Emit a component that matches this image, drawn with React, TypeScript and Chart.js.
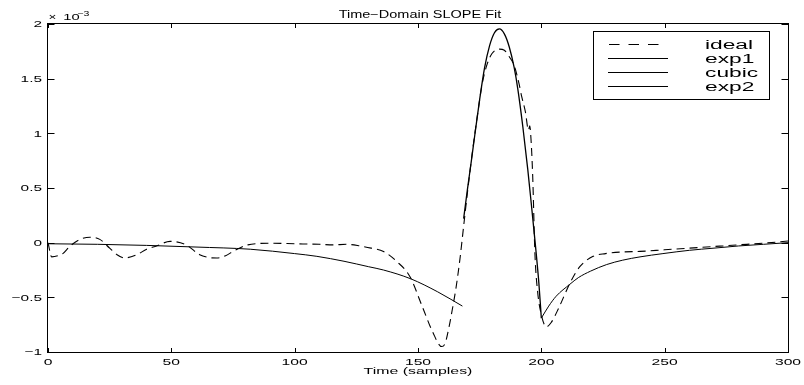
import React, { useEffect, useRef } from "react";
import { Chart, registerables } from "chart.js";

Chart.register(...registerables);

// Values are in units of 1e-3 (axis shows "× 10^-3")
const Y_EXPONENT = "\u22123";

const IDEAL_X = [0, 1.5, 4, 6, 9, 13, 17, 21, 25, 28, 31, 36, 40, 44, 49.5, 56, 61.5, 65, 68.4, 72, 75, 81, 90, 100, 110, 115.6, 121, 126.5, 131, 136, 141.3, 146.7, 152, 156, 159.6, 161, 162.5, 164, 165.5, 167, 168.5, 170, 172, 174, 176, 178, 180, 183, 185, 187, 189, 191, 192, 193.5, 194.8, 195.3, 195.8, 196.5, 197.4, 198.5, 200, 202, 204, 207, 211.6, 215.6, 221, 226, 233, 240, 250, 260, 270, 280, 290, 300];
const IDEAL_Y = [0, -0.13, -0.12, -0.1, -0.03, 0.03, 0.05, 0.03, -0.05, -0.11, -0.14, -0.11, -0.06, -0.03, 0.012, -0.02, -0.11, -0.135, -0.14, -0.12, -0.08, -0.02, -0.005, -0.01, -0.015, -0.02, -0.015, -0.03, -0.05, -0.08, -0.17, -0.31, -0.6, -0.82, -0.95, -0.92, -0.78, -0.6, -0.4, -0.15, 0.15, 0.45, 0.82, 1.15, 1.45, 1.63, 1.73, 1.77, 1.76, 1.7, 1.62, 1.45, 1.34, 1.2, 1.03, 1.07, 0.95, 0.61, -0.1, -0.45, -0.66, -0.77, -0.73, -0.6, -0.37, -0.22, -0.125, -0.1, -0.085, -0.08, -0.065, -0.05, -0.035, -0.02, -0.005, 0.015];

const EXP1_X = [0, 20, 40, 60, 82, 100, 109, 120, 130, 136, 147, 158, 168];
const EXP1_Y = [-0.01, -0.015, -0.025, -0.04, -0.06, -0.1, -0.125, -0.17, -0.22, -0.25, -0.33, -0.45, -0.58];

const CUBIC_X = [168.5, 170, 171.7, 173, 175, 177, 179, 181, 183, 185, 187, 189, 190.5, 192.5, 194.5, 196, 197.5, 199, 200];
const CUBIC_Y = [0.22, 0.48, 0.76, 0.98, 1.31, 1.6, 1.8, 1.92, 1.955, 1.91, 1.79, 1.6, 1.4, 1.06, 0.67, 0.34, 0.0, -0.37, -0.69];

const EXP2_X = [200, 203, 206, 211.6, 215, 220, 226.5, 233, 240, 249.3, 260, 270, 280, 290, 300];
const EXP2_Y = [-0.69, -0.58, -0.49, -0.38, -0.32, -0.26, -0.2, -0.16, -0.13, -0.1, -0.07, -0.05, -0.03, -0.015, 0.0];

const X_TICKS = [0, 50, 100, 150, 200, 250, 300];
const X_TICK_LABELS = ["0", "50", "100", "150", "200", "250", "300"];
const Y_TICKS = [-1, -0.5, 0, 0.5, 1, 1.5, 2];
const Y_TICK_LABELS = ["\u22121", "\u22120.5", "0", "0.5", "1", "1.5", "2"];

const TITLE = "Time\u2212Domain SLOPE Fit";
const X_LABEL = "Time (samples)";
const SERIES_LABELS = ["ideal", "exp1", "cubic", "exp2"];

const FONT = '"Liberation Sans", Arial, Helvetica, sans-serif';

function pts(xs: number[], ys: number[]) {
  return xs.map((x, i) => ({ x, y: ys[i] }));
}

function sText(
  ctx: CanvasRenderingContext2D,
  text: string,
  x: number,
  y: number,
  size: number,
  sx: number,
  align: "left" | "center" | "right",
  baseline: CanvasTextBaseline = "alphabetic"
) {
  ctx.save();
  ctx.font = `${size}px ${FONT}`;
  ctx.textBaseline = baseline;
  ctx.textAlign = "left";
  const w = ctx.measureText(text).width * sx;
  const x0 = align === "center" ? x - w / 2 : align === "right" ? x - w : x;
  ctx.translate(x0, y);
  ctx.scale(sx, 1);
  ctx.fillStyle = "#000";
  ctx.fillText(text, 0, 0);
  ctx.restore();
}

const decorPlugin = {
  id: "matlabDecor",
  afterDraw(chart: any) {
    const ctx: CanvasRenderingContext2D = chart.ctx;
    const { left, top, right, bottom } = chart.chartArea;
    const xs = chart.scales.x;
    const ys = chart.scales.y;
    ctx.save();
    ctx.strokeStyle = "#000";
    ctx.lineWidth = 1;
    ctx.setLineDash([]);
    // frame
    ctx.strokeRect(Math.round(left) - 0.5, Math.round(top) - 0.5, Math.round(right - left) + 1, Math.round(bottom - top) + 1);
    // ticks
    ctx.beginPath();
    X_TICKS.forEach((v) => {
      const px = Math.round(xs.getPixelForValue(v)) + 0.5;
      ctx.moveTo(px, bottom);
      ctx.lineTo(px, bottom - 4);
      ctx.moveTo(px, top);
      ctx.lineTo(px, top + 4);
    });
    Y_TICKS.forEach((v) => {
      const py = Math.round(ys.getPixelForValue(v)) + 0.5;
      ctx.moveTo(left, py);
      ctx.lineTo(left + 6.5, py);
      ctx.moveTo(right, py);
      ctx.lineTo(right - 6.5, py);
    });
    ctx.stroke();

    // tick labels
    X_TICKS.forEach((v, i) => {
      sText(ctx, X_TICK_LABELS[i], xs.getPixelForValue(v), bottom + 12.5, 9.5, 1.65, "center");
    });
    Y_TICKS.forEach((v, i) => {
      sText(ctx, Y_TICK_LABELS[i], left - 6, ys.getPixelForValue(v) + 3.4, 9.5, 1.62, "right");
    });

    // exponent label
    sText(ctx, "\u00d7", left + 0.5, top - 4.5, 9, 1.5, "left");
    sText(ctx, "10", left + 15.3, top - 4, 9.5, 1.55, "left");
    sText(ctx, Y_EXPONENT, left + 29.3, top - 8.5, 7, 1.5, "left");

    // title & x label
    const cx = (left + right) / 2;
    sText(ctx, TITLE, cx + 2, top - 6.5, 10, 1.45, "center");
    sText(ctx, X_LABEL, cx, bottom + 22, 9.8, 1.62, "center");

    // legend
    const bx = 593.5, by = 31.5, bw = 176, bh = 68;
    ctx.fillStyle = "#fff";
    ctx.fillRect(bx, by, bw, bh);
    ctx.strokeRect(bx, by, bw, bh);
    const labels: string[] = chart.data.datasets.map((d: any) => d.label);
    labels.forEach((lab, i) => {
      const ly = 44 + i * 14;
      const ds = chart.data.datasets[i];
      ctx.beginPath();
      ctx.lineWidth = 1;
      if (ds.borderDash && ds.borderDash.length) {
        ctx.setLineDash([10.5, 9]);
        ctx.moveTo(609, ly + 0.5);
        ctx.lineTo(659, ly + 0.5);
      } else {
        ctx.setLineDash([]);
        ctx.moveTo(608, ly + 0.5);
        ctx.lineTo(668, ly + 0.5);
      }
      ctx.stroke();
      ctx.setLineDash([]);
      sText(ctx, lab, 705, ly + 4.6, 12.5, 1.82, "left");
    });
    ctx.restore();
  },
};

export default function App() {
  const ref = useRef<HTMLCanvasElement | null>(null);
  useEffect(() => {
    if (!ref.current) return;
    const common = {
      borderColor: "#000",
      pointRadius: 0,
      fill: false,
      cubicInterpolationMode: "monotone" as const,
      showLine: true,
    };
    const chart = new Chart(ref.current, {
      type: "line",
      data: {
        datasets: [
          { ...common, label: SERIES_LABELS[0], data: pts(IDEAL_X, IDEAL_Y), borderWidth: 1.1, borderDash: [8, 5] },
          { ...common, label: SERIES_LABELS[1], data: pts(EXP1_X, EXP1_Y), borderWidth: 1 },
          { ...common, label: SERIES_LABELS[2], data: pts(CUBIC_X, CUBIC_Y), borderWidth: 1.3 },
          { ...common, label: SERIES_LABELS[3], data: pts(EXP2_X, EXP2_Y), borderWidth: 1 },
        ],
      },
      options: {
        responsive: false,
        animation: false,
        parsing: false as any,
        normalized: true,
        layout: { padding: { left: 48, top: 24, right: 16, bottom: 33 } },
        plugins: { legend: { display: false }, title: { display: false }, tooltip: { enabled: false } },
        scales: {
          x: { type: "linear", min: 0, max: 300, display: false },
          y: { type: "linear", min: -1, max: 2, display: false },
        },
      },
      plugins: [decorPlugin],
    });
    return () => chart.destroy();
  }, []);
  return (
    <div style={{ position: "fixed", left: 0, top: 0, width: 804, height: 385, background: "#fff" }}>
      <canvas ref={ref} width={804} height={385} style={{ width: 804, height: 385, display: "block" }} />
    </div>
  );
}
